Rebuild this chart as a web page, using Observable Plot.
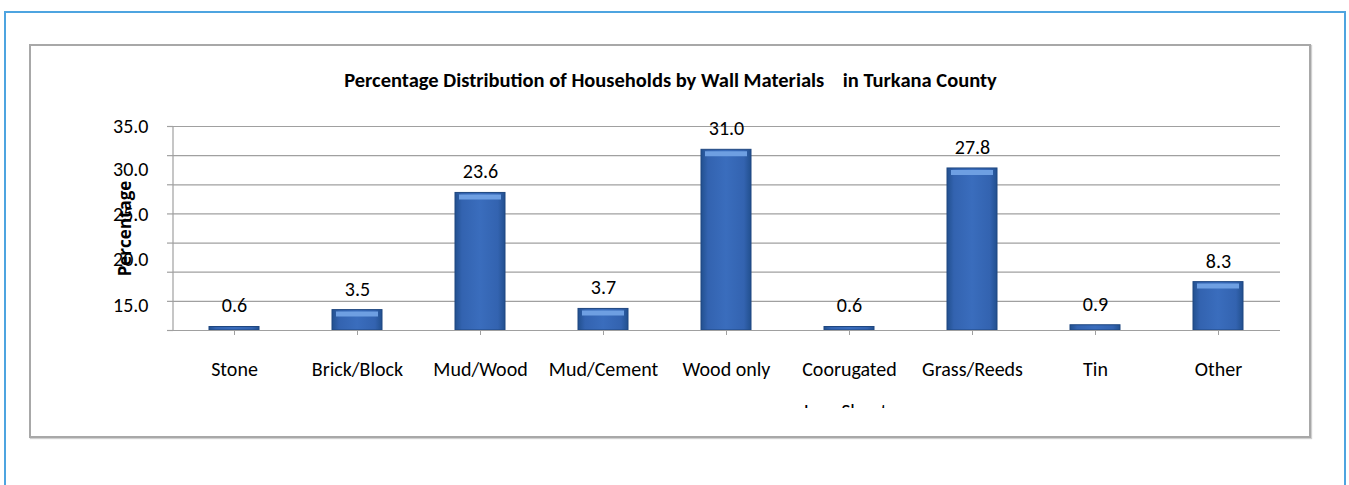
<!DOCTYPE html>
<html><head><meta charset="utf-8">
<script src="https://cdn.jsdelivr.net/npm/d3@7"></script>
<script src="https://cdn.jsdelivr.net/npm/@observablehq/plot@0.6"></script>
<style>
body{margin:0;background:#fff;width:1349px;height:485px;overflow:hidden;position:relative;font-family:Carlito,Calibri,Lato,sans-serif}
#outer{position:absolute;left:4px;top:11px;width:1338px;height:520px;border:2px solid #4ea4e0;}
#inner{position:absolute;left:29px;top:44px;width:1278px;height:390px;border:2px solid #a8a8a8;box-shadow:1px 1px 1px #d0d0d0}
#title{position:absolute;top:67px;left:29px;width:1283px;text-align:center;font-weight:bold;font-size:20.5px;white-space:pre;color:#000}
#chart{position:absolute;left:0;top:0}
</style></head><body>
<div id="outer"></div><div id="inner"></div>
<div id="title">Percentage Distribution of Households by Wall Materials    in Turkana County</div>
<div id="chart"></div>
<script>
const categories = ["Stone","Brick/Block","Mud/Wood","Mud/Cement","Wood only","Coorugated","Grass/Reeds","Tin","Other"];
const categoryLabels = ["Stone","Brick/Block","Mud/Wood","Mud/Cement","Wood only","Coorugated\nIron Sheets","Grass/Reeds","Tin","Other"];
const values = [0.6, 3.5, 23.6, 3.7, 31.0, 0.6, 27.8, 0.9, 8.3];
const gridTicks = [0, 5, 10, 15, 20, 25, 30, 35];
const yTickLabels = ["35.0", "30.0", "25.0", "20.0", "15.0"];
const yTickLabelPositions = [35, 27.6, 19.9, 12.1, 4.3];
const yTitle = "Percentage";

const data = categories.map((c, i) => ({category: c, value: values[i]}));
const labelOf = new Map(categories.map((c, i) => [c, categoryLabels[i]]));
const yLabelOf = new Map(yTickLabelPositions.map((p, i) => [p, yTickLabels[i]]));

const defs = () => {
  const d = d3.create("svg:defs");
  const g = d.append("linearGradient").attr("id", "barGrad").attr("x1", 0).attr("x2", 1).attr("y1", 0).attr("y2", 0);
  [["0%", "#22508f"], ["14%", "#3363b0"], ["50%", "#3a6dbd"], ["86%", "#3363b0"], ["100%", "#22508f"]]
    .forEach(([o, c]) => g.append("stop").attr("offset", o).attr("stop-color", c));
  return d.node();
};

const leftAxisLine = (index, scales, values, dims) => {
  const y0 = scales.y(0), y1 = scales.y(35);
  return d3.create("svg:line")
    .attr("x1", dims.marginLeft).attr("x2", dims.marginLeft)
    .attr("y1", y0).attr("y2", y1)
    .attr("stroke", "#a0a0a0").attr("stroke-width", 1.2).node();
};

const chart = Plot.plot({
  width: 1349,
  height: 408,
  marginLeft: 173,
  marginRight: 69,
  marginTop: 126,
  marginBottom: 78,
  style: {background: "transparent", fontFamily: "Carlito, Calibri, Lato, sans-serif", overflow: "hidden"},
  x: {domain: categories, paddingInner: 0.593, paddingOuter: 0.2965, label: null},
  y: {domain: [0, 35], label: null},
  marks: [
    defs,
    Plot.gridY(gridTicks, {stroke: "#a0a0a0", strokeOpacity: 1, strokeWidth: 1.2}),
    Plot.axisY({ticks: gridTicks, tickSize: 6, tickFormat: () => "", stroke: "#a0a0a0", strokeWidth: 1.2, label: null}),
    Plot.axisY({ticks: yTickLabelPositions, tickSize: 0, tickPadding: 25, tickFormat: d => yLabelOf.get(d), fontSize: 20, fill: "#000", label: null}),
    leftAxisLine,
    Plot.barY(data, {x: "category", y: "value", fill: "url(#barGrad)", stroke: "#1f4780", strokeWidth: 1}),
    Plot.tickY(data.filter(d => d.value > 2), {x: "category", y: "value", stroke: "#6e9fe2", strokeWidth: 5, dy: 4, insetLeft: 4, insetRight: 4}),
    Plot.ruleY([0], {stroke: "#a0a0a0", strokeWidth: 1.2}),
    Plot.axisX({tickSize: 5, tickPadding: 11, tickFormat: d => labelOf.get(d), lineHeight: 2.1, fontSize: 20, stroke: "#a0a0a0", fill: "#000", label: null}),
    Plot.text(data, {x: "category", y: "value", text: d => d.value.toFixed(1), dy: -21, fontSize: 20, fill: "#000"}),
    Plot.text([yTitle], {frameAnchor: "left", textAnchor: "middle", rotate: -90, dx: -48, text: d => d, fontSize: 17, fontWeight: "bold", fontFamily: "Open Sans", fill: "#000"})
  ]
});
document.getElementById("chart").appendChild(chart);
</script>
</body></html>
